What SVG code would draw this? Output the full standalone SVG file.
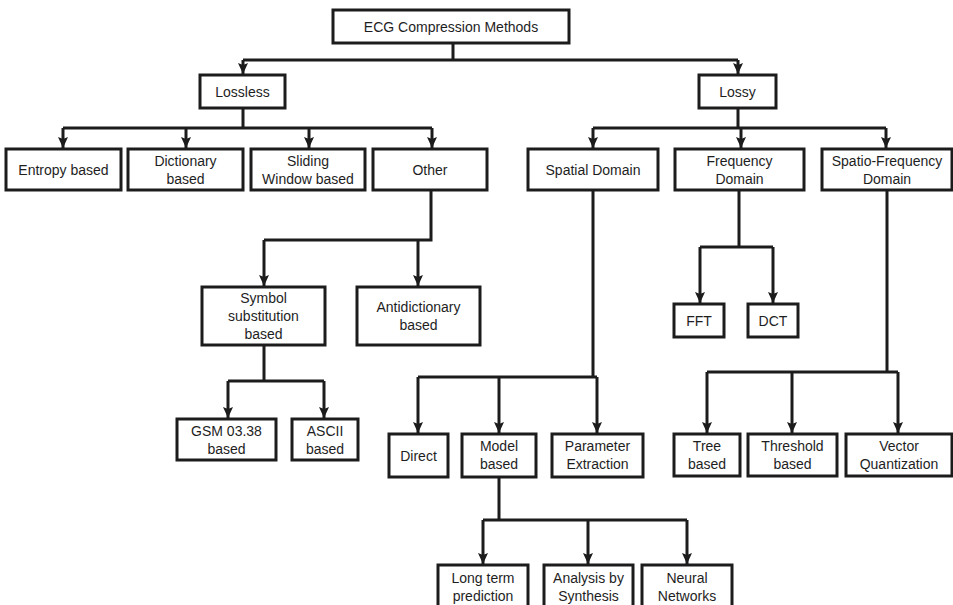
<svg xmlns="http://www.w3.org/2000/svg" width="953" height="605" viewBox="0 0 953 605">
<defs>
<marker id="ah" markerUnits="userSpaceOnUse" viewBox="0 0 12 10" refX="11" refY="5" markerWidth="12" markerHeight="12" orient="auto">
<path d="M0,0 L11,5 L0,10 L2,5 z" fill="#1c1c1c"/>
</marker>
<style>
.box{fill:#fff;stroke:#1c1c1c;stroke-width:3}
.t{font-family:"Liberation Sans",Arial,sans-serif;font-size:14px;fill:#1e1e1e;text-anchor:middle}
.c{fill:none;stroke:#1c1c1c;stroke-width:3}
.a{fill:none;stroke:#1c1c1c;stroke-width:3;marker-end:url(#ah)}
</style>
</defs>
<rect width="953" height="605" fill="#fff"/>
<g id="connectors">
<path class="c" d="M453,43 V60 M243,60 H738"/>
<path class="a" d="M243,60 V74"/>
<path class="a" d="M738,60 V74"/>
<path class="c" d="M243,108 V128 M63,128 H432"/>
<path class="a" d="M63,128 V148"/>
<path class="a" d="M186,128 V148"/>
<path class="a" d="M309,128 V148"/>
<path class="a" d="M432,128 V148"/>
<path class="c" d="M738,108 V128 M593,128 H886"/>
<path class="a" d="M593,128 V148"/>
<path class="a" d="M741,128 V148"/>
<path class="a" d="M886,128 V148"/>
<path class="c" d="M431,190 V240 H264"/>
<path class="a" d="M264,240 V286"/>
<path class="a" d="M418,240 V286"/>
<path class="c" d="M264,345 V381 M228,381 H324"/>
<path class="a" d="M228,381 V418"/>
<path class="a" d="M324,381 V418"/>
<path class="c" d="M739,190 V247 M700,247 H773"/>
<path class="a" d="M700,247 V303"/>
<path class="a" d="M773,247 V303"/>
<path class="c" d="M593,190 V377 M418,377 H597"/>
<path class="a" d="M418,377 V433"/>
<path class="a" d="M499,377 V433"/>
<path class="a" d="M597,377 V433"/>
<path class="c" d="M499,477 V520 M483,520 H687"/>
<path class="a" d="M483,520 V564"/>
<path class="a" d="M588,520 V564"/>
<path class="a" d="M687,520 V564"/>
<path class="c" d="M887,190 V372 M707,372 H898"/>
<path class="a" d="M707,372 V433"/>
<path class="a" d="M792,372 V433"/>
<path class="a" d="M898,372 V433"/>
</g>
<g id="ecg"><rect class="box" x="333" y="10" width="236" height="33"/><text class="t" x="451" y="32">ECG Compression Methods</text></g>
<g id="lossless"><rect class="box" x="200" y="75" width="85" height="33"/><text class="t" x="242.5" y="96.5">Lossless</text></g>
<g id="lossy"><rect class="box" x="699" y="75" width="77" height="33"/><text class="t" x="737.5" y="96.5">Lossy</text></g>
<g id="entropy"><rect class="box" x="6" y="149" width="115" height="41"/><text class="t" x="63.5" y="174.5">Entropy based</text></g>
<g id="dictionary"><rect class="box" x="128" y="149" width="115" height="41"/><text class="t" x="185.5" y="166">Dictionary</text><text class="t" x="185.5" y="184">based</text></g>
<g id="sliding"><rect class="box" x="251" y="149" width="114" height="41"/><text class="t" x="308" y="166">Sliding</text><text class="t" x="308" y="184">Window based</text></g>
<g id="other"><rect class="box" x="373" y="149" width="114" height="41"/><text class="t" x="430" y="174.5">Other</text></g>
<g id="spatial"><rect class="box" x="528" y="149" width="130" height="41"/><text class="t" x="593" y="174.5">Spatial Domain</text></g>
<g id="frequency"><rect class="box" x="675" y="149" width="129" height="41"/><text class="t" x="739.5" y="166">Frequency</text><text class="t" x="739.5" y="184">Domain</text></g>
<g id="spatiofreq"><rect class="box" x="822" y="149" width="130" height="41"/><text class="t" x="887" y="166">Spatio-Frequency</text><text class="t" x="887" y="184">Domain</text></g>
<g id="symbol"><rect class="box" x="202" y="287" width="123" height="58"/><text class="t" x="263.5" y="303">Symbol</text><text class="t" x="263.5" y="321">substitution</text><text class="t" x="263.5" y="339">based</text></g>
<g id="antidictionary"><rect class="box" x="357" y="287" width="123" height="58"/><text class="t" x="418.5" y="312">Antidictionary</text><text class="t" x="418.5" y="330">based</text></g>
<g id="gsm"><rect class="box" x="177" y="419" width="99" height="41"/><text class="t" x="226.5" y="436">GSM 03.38</text><text class="t" x="226.5" y="454">based</text></g>
<g id="ascii"><rect class="box" x="292" y="419" width="66" height="41"/><text class="t" x="325" y="436">ASCII</text><text class="t" x="325" y="454">based</text></g>
<g id="fft"><rect class="box" x="674" y="304" width="50" height="33"/><text class="t" x="699" y="325.5">FFT</text></g>
<g id="dct"><rect class="box" x="748" y="304" width="50" height="33"/><text class="t" x="773" y="325.5">DCT</text></g>
<g id="direct"><rect class="box" x="389" y="434" width="59" height="43"/><text class="t" x="418.5" y="460.5">Direct</text></g>
<g id="model"><rect class="box" x="462" y="434" width="74" height="43"/><text class="t" x="499" y="451">Model</text><text class="t" x="499" y="469">based</text></g>
<g id="parameter"><rect class="box" x="552" y="434" width="91" height="43"/><text class="t" x="597.5" y="451">Parameter</text><text class="t" x="597.5" y="469">Extraction</text></g>
<g id="tree"><rect class="box" x="674" y="434" width="66" height="42"/><text class="t" x="707" y="451">Tree</text><text class="t" x="707" y="469">based</text></g>
<g id="threshold"><rect class="box" x="748" y="434" width="89" height="42"/><text class="t" x="792.5" y="451">Threshold</text><text class="t" x="792.5" y="469">based</text></g>
<g id="vector"><rect class="box" x="846" y="434" width="106" height="42"/><text class="t" x="899" y="451">Vector</text><text class="t" x="899" y="469">Quantization</text></g>
<g id="longterm"><rect class="box" x="438" y="565" width="90" height="50"/><text class="t" x="483" y="583">Long term</text><text class="t" x="483" y="601">prediction</text></g>
<g id="analysis"><rect class="box" x="544" y="565" width="89" height="50"/><text class="t" x="588.5" y="583">Analysis by</text><text class="t" x="588.5" y="601">Synthesis</text></g>
<g id="neural"><rect class="box" x="642" y="565" width="90" height="50"/><text class="t" x="687" y="583">Neural</text><text class="t" x="687" y="601">Networks</text></g>
</svg>
